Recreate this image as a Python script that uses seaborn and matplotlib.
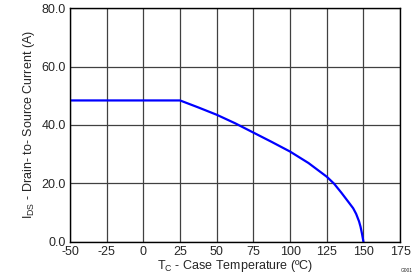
import pandas as pd
import matplotlib.pyplot as plt
import seaborn as sns

# Values
temp_c = [-50, 0, 25, 37.5, 50, 62.5, 75, 87.5, 100, 112.5, 125, 130, 135, 140, 143, 145, 147, 148, 149, 150]
current_a = [48.4, 48.4, 48.4, 46.0, 43.5, 40.6, 37.4, 34.2, 30.9, 27.0, 22.3, 19.9, 16.8, 13.5, 11.5, 9.6, 7.0, 5.2, 2.8, 0.0]

x_ticks = [-50, -25, 0, 25, 50, 75, 100, 125, 150, 175]
y_ticks = [0, 20, 40, 60, 80]

df = pd.DataFrame({'temp': temp_c, 'current': current_a})

sns.set_style('white')
plt.rcParams['font.family'] = ['Liberation Sans', 'DejaVu Sans']
plt.rcParams['mathtext.fontset'] = 'custom'
plt.rcParams['mathtext.rm'] = 'Liberation Sans'

fig = plt.figure(figsize=(4.19, 2.79), dpi=100)
ax = fig.add_axes([0.167, 0.133, 0.788, 0.838])

sns.lineplot(x='temp', y='current', data=df, ax=ax, color='#0000ff', linewidth=1.6)

ax.set_xlim(-50, 175)
ax.set_ylim(0, 80)
ax.set_xticks(x_ticks)
ax.set_xticklabels([str(t) for t in x_ticks], fontsize=9)
ax.set_yticks(y_ticks)
ax.set_yticklabels(['%.1f' % t for t in y_ticks], fontsize=9)
ax.tick_params(length=0, pad=3)

ax.grid(True, color='#404040', linewidth=0.9)
for s in ax.spines.values():
    s.set_color('black')
    s.set_linewidth(1.0)

ax.set_xlabel(r'T$_{\mathregular{C}}$ - Case Temperature (ºC)', fontsize=9, labelpad=0)
ax.set_ylabel(r'I$_{\mathregular{DS}}$ - Drain- to- Source Current (A)', fontsize=9, labelpad=3)

fig.text(0.985, 0.02, 'G001', fontsize=3.5, ha='right', va='bottom')

plt.savefig('out.png', dpi=100)
